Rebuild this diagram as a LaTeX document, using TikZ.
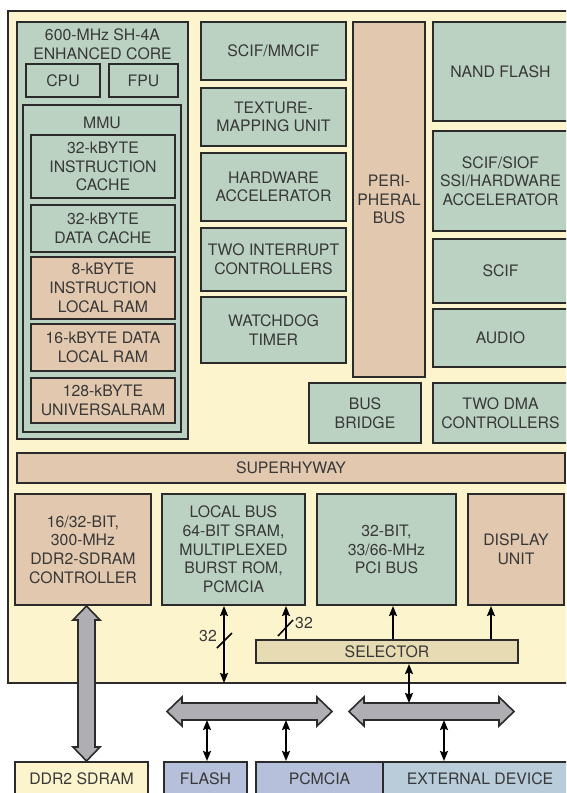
\documentclass[tikz,border=0pt]{standalone}
\usepackage{fontspec}
\setmainfont{TeX Gyre Heros}
\usetikzlibrary{arrows.meta,calc}
\definecolor{bgyel}{HTML}{FCF4CD}
\definecolor{grn}{HTML}{BBD2C2}
\definecolor{tanc}{HTML}{E2C8AE}
\definecolor{selc}{HTML}{E6DBB2}
\definecolor{greyarr}{HTML}{AFAFB3}
\definecolor{bluec}{HTML}{B7C0DA}
\definecolor{extc}{HTML}{B8CCDA}
\definecolor{edge}{HTML}{2B2B2B}
\definecolor{txt}{HTML}{383838}
\tikzset{
  blk/.style={draw=edge, line width=2pt, inner sep=0pt, align=center, text=txt,
    font=\fontsize{15.8}{18.7}\selectfont},
  grnbox/.style={blk, fill=grn},
  tanbox/.style={blk, fill=tanc},
  yelbox/.style={blk, fill=bgyel},
  selbox/.style={blk, fill=selc},
  bluebox/.style={blk, fill=bluec},
  extbox/.style={blk, fill=extc},
  lbl/.style={inner sep=0pt, align=center, text=txt, font=\fontsize{15.8}{18.7}\selectfont},
  conn/.style={line width=1.8pt, draw=black},
  up/.style={conn, -{Stealth[length=10pt,width=8pt,inset=1.5pt]}},
  both/.style={conn, {Stealth[length=10pt,width=8pt,inset=1.5pt]}-{Stealth[length=10pt,width=8pt,inset=1.5pt]}},
  slash/.style={line width=1.5pt, draw=black},
  garrow/.style={draw=edge, line width=1.6pt, fill=greyarr, line join=miter},
}
\newcommand\bx[7]{\node[#6, minimum width={(#4-#2)*1pt}, minimum height={(#5-#3)*1pt}] (#1) at ({(#2+#4)/2},{(#3+#5)/2}) {#7};}
\newcommand\harrow[3]{\draw[garrow] (#1,#3) -- ({#1+15},{#3-14.5}) -- ({#1+15},{#3-8.5}) -- ({#2-15},{#3-8.5}) -- ({#2-15},{#3-14.5}) -- (#2,#3) -- ({#2-15},{#3+14.5}) -- ({#2-15},{#3+8.5}) -- ({#1+15},{#3+8.5}) -- ({#1+15},{#3+14.5}) -- cycle;}
\begin{document}
\begin{tikzpicture}[x=1pt,y=-1pt]
\useasboundingbox (0,0) rectangle (566,793);
\clip (0,0) rectangle (566,793);
\fill[white] (0,0) rectangle (566,793);
% main chip background
\bx{chip}{8}{11}{620}{683}{yelbox}{}
% core
\bx{core}{17}{22}{188}{439}{grnbox}{}
\node[lbl] (coretitle) at (102.5,44) {600-MHz SH-4A\\ENHANCED CORE};
\bx{cpu}{26}{64}{100}{97}{grnbox}{CPU}
\bx{fpu}{109}{64}{178}{97}{grnbox}{FPU}
\bx{mmu}{23}{105}{181}{432}{grnbox}{}
\node[lbl] (mmulbl) at (102,123) {MMU};
\bx{icache}{31}{135}{175}{198}{grnbox}{32-kBYTE\\INSTRUCTION\\CACHE}
\bx{dcache}{31}{205}{175}{252}{grnbox}{32-kBYTE\\DATA CACHE}
\bx{ilram}{31}{257}{175}{319}{tanbox}{8-kBYTE\\INSTRUCTION\\LOCAL RAM}
\bx{dlram}{31}{324}{175}{371}{tanbox}{16-kBYTE DATA\\LOCAL RAM}
\bx{uram}{31}{378}{175}{423}{tanbox}{128-kBYTE\\UNIVERSALRAM}
% middle column
\bx{mmcif}{201}{22}{346}{80}{grnbox}{SCIF/MMCIF}
\bx{tmu}{201}{88}{346}{146}{grnbox}{TEXTURE-\\MAPPING UNIT}
\bx{hwacc}{201}{153}{346}{221}{grnbox}{HARDWARE\\ACCELERATOR}
\bx{intc}{201}{228}{346}{291}{grnbox}{TWO INTERRUPT\\CONTROLLERS}
\bx{wdt}{201}{297}{346}{363}{grnbox}{WATCHDOG\\TIMER}
\bx{pbus}{353}{22}{425}{377}{tanbox}{PERI-\\PHERAL\\BUS}
\bx{bridge}{309}{383}{421}{443}{grnbox}{BUS\\BRIDGE}
% right column
\bx{nand}{433}{22}{568}{121}{grnbox}{NAND FLASH}
\bx{siof}{433}{131}{568}{231}{grnbox}{SCIF/SIOF\\SSI/HARDWARE\\ACCELERATOR}
\bx{scif}{433}{239}{568}{303}{grnbox}{SCIF}
\bx{audio}{433}{309}{568}{367}{grnbox}{AUDIO}
\bx{dma}{433}{383}{568}{443}{grnbox}{TWO DMA\\CONTROLLERS}
% superhyway
\bx{shwy}{17}{453}{565}{483}{tanbox}{SUPERHYWAY}
% lower row
\bx{ddrc}{15}{494}{151}{605}{tanbox}{16/32-BIT,\\300-MHz\\DDR2-SDRAM\\CONTROLLER}
\bx{lbus}{162}{494}{305}{605}{grnbox}{LOCAL BUS\\64-BIT SRAM,\\MULTIPLEXED\\BURST ROM,\\PCMCIA}
\bx{pci}{317}{494}{456}{605}{grnbox}{32-BIT,\\33/66-MHz\\PCI BUS}
\bx{disp}{468}{494}{564}{605}{tanbox}{DISPLAY\\UNIT}
\bx{sel}{256}{640}{518}{663}{selbox}{SELECTOR}
% external parts
\bx{sdram}{15}{762}{148}{796}{yelbox}{DDR2 SDRAM}
\bx{flash}{164}{762}{247}{796}{bluebox}{FLASH}
\bx{pcm}{256}{762}{383}{796}{bluebox}{PCMCIA}
\bx{ext}{383}{762}{577}{796}{extbox}{EXTERNAL DEVICE}
% DDR thick arrow
\draw[garrow] (ddrc.south -| 86.5,0) -- (100,620) -- (95,620) -- (95,747) -- (100,747) -- (sdram.north -| 86.5,0) -- (73,747) -- (78,747) -- (78,620) -- (73,620) -- cycle;
% wide bus arrows
\harrow{167}{332}{711.5}
\harrow{349}{514}{711.5}
\coordinate (la) at (224,683);
\coordinate (lb) at (286,0);
\coordinate (lc) at (393,0);
\coordinate (ld) at (491,0);
\coordinate (le) at (409,703);
\coordinate (wf) at (207,720);
\coordinate (wg) at (286,720);
\coordinate (wh) at (444,720);
% connectors
\draw[both] (lbus.south -| la) -- (la);
\draw[up] (sel.north -| lb) -- (lbus.south -| lb);
\draw[up] (sel.north -| lc) -- (pci.south -| lc);
\draw[up] (sel.north -| ld) -- (disp.south -| ld);
\draw[both] (sel.south -| le) -- (le);
\draw[both] (wf) -- (flash.north -| wf);
\draw[both] (wg) -- (pcm.north -| wg);
\draw[both] (wh) -- (ext.north -| wh);
% bus width marks
\draw[slash] (217,648) -- (232,633);
\node[lbl] (w1) at (208,636.5) {32};
\draw[slash] (278,636) -- (293,620);
\node[lbl] (w2) at (304,623) {32};
\end{tikzpicture}
\end{document}
